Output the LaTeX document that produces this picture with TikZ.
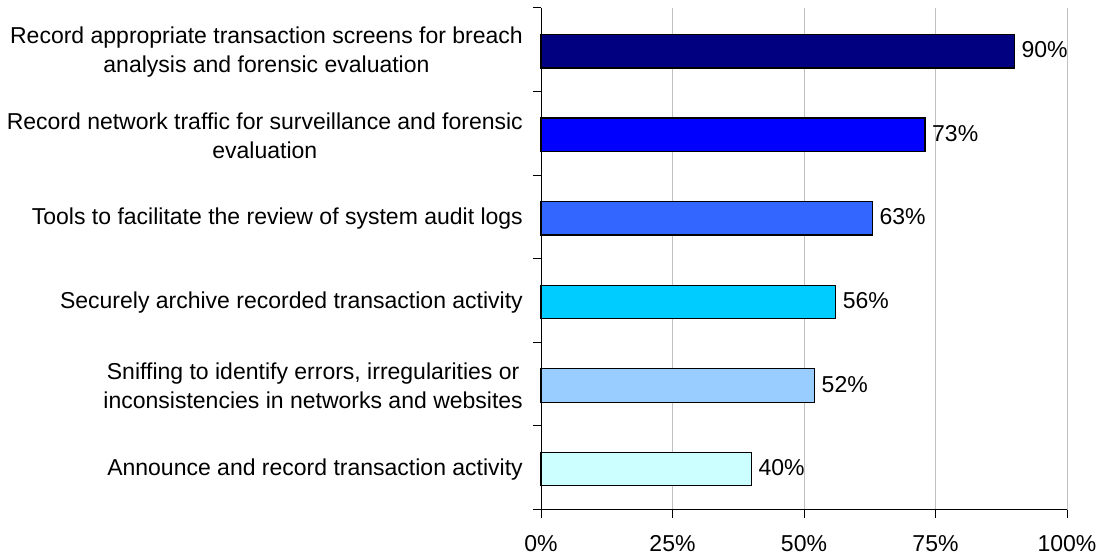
\documentclass[tikz,border=0pt]{standalone}
\usepackage{fontspec}
\setmainfont{Liberation Sans}
\definecolor{barA}{HTML}{000080}
\definecolor{barB}{HTML}{0000FF}
\definecolor{barC}{HTML}{3366FF}
\definecolor{barD}{HTML}{00CCFF}
\definecolor{barE}{HTML}{99CCFF}
\definecolor{barF}{HTML}{CCFFFF}
\definecolor{gridgray}{HTML}{C0C0C0}
\newcommand{\chartfont}{\fontsize{23bp}{29bp}\selectfont}
\begin{document}
\begin{tikzpicture}[x=1bp,y=-1bp,
  gridline/.style={draw=gridgray,line width=1bp},
  axisline/.style={draw=black,line width=1bp},
  barbox/.style={draw=black,line width=1.3bp},
  catlabel/.style={anchor=east,align=center,font=\chartfont,inner sep=0pt},
  vallabel/.style={anchor=base west,font=\chartfont,inner sep=0pt},
  ticklabel/.style={anchor=base,font=\chartfont,inner sep=0pt}]
\useasboundingbox (0,0) rectangle (1102,554);
\def\xo{541}\def\xs{5.26}\def\yt{8}\def\yb{509.5}\def\ch{83.583}
% gridlines
\foreach \p in {25,50,75,100}{
  \draw[gridline] ({\xo+\xs*\p},\yt) -- ({\xo+\xs*\p},\yb);
}
% bars and value labels
\foreach \i/\v/\c in {1/90/barA,2/73/barB,3/63/barC,4/56/barD,5/52/barE,6/40/barF}{
  \pgfmathsetmacro\cy{\yt+(\i-0.5)*\ch+1.4}
  \draw[barbox,fill=\c] (\xo,\cy-16.7) rectangle ({\xo+\xs*\v},\cy+16.7);
  \node[vallabel] (val\i) at ({\xo+\xs*\v+7},\cy+6.5) {\v\%};
}
% axes
\draw[axisline] (\xo,\yt) -- (\xo,\yb);
\draw[axisline] (533,\yb) -- ({\xo+\xs*100},\yb);
\foreach \k in {0,...,6}{
  \draw[axisline] (533,{\yt+\k*\ch}) -- (\xo,{\yt+\k*\ch});
}
\foreach \p in {0,25,50,75,100}{
  \draw[axisline] ({\xo+\xs*\p},\yb) -- ({\xo+\xs*\p},517.7);
  \node[ticklabel] (tick\p) at ({\xo+\xs*\p},551) {\p\%};
}
% category labels
\foreach \i/\t in {%
  1/{Record appropriate transaction screens for breach\\analysis and forensic evaluation},
  2/{Record network traffic for surveillance and forensic\\evaluation},
  3/{Tools to facilitate the review of system audit logs},
  4/{Securely archive recorded transaction activity},
  5/{Sniffing to identify errors, irregularities or\\inconsistencies in networks and websites},
  6/{Announce and record transaction activity}}{
  \pgfmathsetmacro\cy{\yt+(\i-0.5)*\ch+2}
  \node[catlabel] (cat\i) at (523,\cy) {\t};
}
\end{tikzpicture}
\end{document}
